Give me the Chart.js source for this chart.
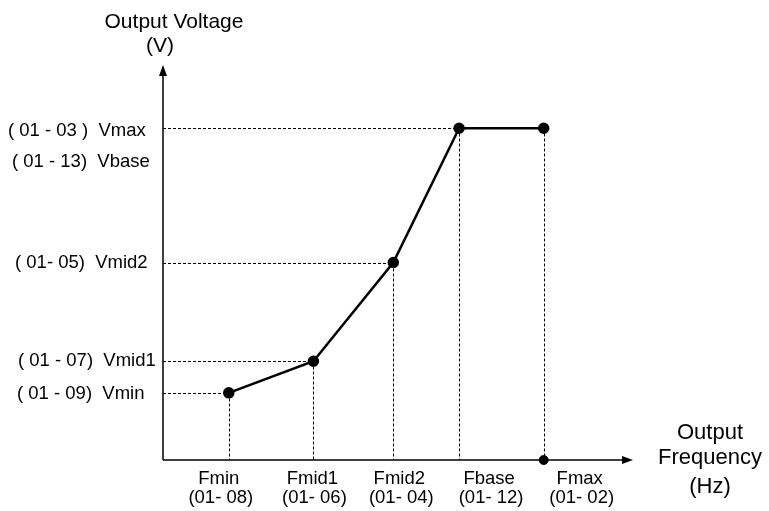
<!DOCTYPE html>
<html>
<head>
<meta charset="utf-8">
<script src="https://cdn.jsdelivr.net/npm/chart.js@4"></script>
<style>
  html, body { margin: 0; padding: 0; background: #fff; }
  #wrap { width: 769px; height: 511px; position: relative; }
</style>
</head>
<body>
<div id="wrap"><canvas id="vfChart"></canvas></div>
<script>
// V/F curve points (arbitrary units, 0..100 on each axis)
const freqNames = ["Fmin", "Fmid1", "Fmid2", "Fbase", "Fmax"];
const freqCodes = ["(01- 08)", "(01- 06)", "(01- 04)", "(01- 12)", "(01- 02)"];
const freqValues = [14, 32, 49, 63, 81];
const voltValues = [17, 25, 50, 84, 84];

// y side labels (Vbase sits just below Vmax, no guide line)
const voltLabels = ["( 01 - 03 )  Vmax", "( 01 - 13)  Vbase", "( 01- 05)  Vmid2", "( 01 - 07)  Vmid1", "( 01 - 09)  Vmin"];
const voltLabelValues = [84, 75.5, 50, 25, 17];

const FONT = '"Liberation Sans", Arial, sans-serif';

const axesPlugin = {
  id: 'axesPlugin',
  beforeDatasetsDraw(chart) {
    const ctx = chart.ctx;
    const xs = chart.scales.x, ys = chart.scales.y;
    const x0 = xs.getPixelForValue(0), y0 = ys.getPixelForValue(0);
    const xEnd = xs.getPixelForValue(xs.max), yEnd = ys.getPixelForValue(ys.max);
    ctx.save();
    ctx.strokeStyle = '#000';
    ctx.fillStyle = '#000';

    // dashed guides
    ctx.lineWidth = 1;
    ctx.setLineDash([3, 2]);
    for (let i = 0; i < freqValues.length; i++) {
      const px = Math.round(xs.getPixelForValue(freqValues[i])) + 0.5;
      const py = Math.round(ys.getPixelForValue(voltValues[i])) + 0.5;
      ctx.beginPath();
      ctx.moveTo(x0, py); ctx.lineTo(px, py);
      ctx.moveTo(px, py); ctx.lineTo(px, y0);
      ctx.stroke();
    }
    ctx.setLineDash([]);

    // axes with arrow heads
    ctx.lineWidth = 1.5;
    ctx.beginPath();
    ctx.moveTo(x0, y0); ctx.lineTo(x0, yEnd + 6);
    ctx.moveTo(x0, y0); ctx.lineTo(xEnd - 6, y0);
    ctx.stroke();
    ctx.beginPath();
    ctx.moveTo(x0, yEnd); ctx.lineTo(x0 - 4, yEnd + 11); ctx.lineTo(x0 + 4, yEnd + 11); ctx.closePath();
    ctx.fill();
    ctx.beginPath();
    ctx.moveTo(xEnd, y0); ctx.lineTo(xEnd - 11, y0 - 4); ctx.lineTo(xEnd - 11, y0 + 4); ctx.closePath();
    ctx.fill();

    // axis titles
    ctx.font = '21px ' + FONT;
    ctx.textAlign = 'center';
    ctx.textBaseline = 'middle';
    ctx.fillText('Output Voltage', 174, 22);
    ctx.fillText('(V)', 160, 46);
    ctx.font = '22px ' + FONT;
    ctx.fillText('Output', 710, 433);
    ctx.fillText('Frequency', 710, 458);
    ctx.fillText('(Hz)', 710, 487);

    // level labels, left edges as in the original drawing
    const leftX = [8, 12, 15, 18, 17];
    const dy = [3, 0, 0, 0, 1];
    ctx.font = '18.5px ' + FONT;
    ctx.textAlign = 'left';
    voltLabels.forEach((t, i) => {
      ctx.fillText(t, leftX[i], ys.getPixelForValue(voltLabelValues[i]) + dy[i]);
    });

    // frequency labels, the last two sit right of their guide line
    const shiftX = [-10, -1, 6, 30, 36];
    ctx.textAlign = 'center';
    freqNames.forEach((t, i) => {
      const px = xs.getPixelForValue(freqValues[i]) + shiftX[i];
      ctx.fillText(t, px, y0 + 19);
      ctx.fillText(freqCodes[i], px + 2, y0 + 38);
    });
    ctx.restore();
  }
};

new Chart(document.getElementById('vfChart'), {
  type: 'scatter',
  data: {
    datasets: [{
      data: freqValues.map((f, i) => ({ x: f, y: voltValues[i] })),
      showLine: true,
      borderColor: '#000',
      backgroundColor: '#000',
      borderWidth: 2.5,
      pointRadius: 4.5,
      pointHoverRadius: 4.5,
      clip: false
    }, {
      // Fmax marker on the frequency axis
      data: [{ x: freqValues[4], y: 0 }],
      backgroundColor: '#000',
      borderColor: '#000',
      pointRadius: 4.5,
      clip: false
    }]
  },
  options: {
    responsive: true,
    maintainAspectRatio: false,
    animation: false,
    layout: { padding: { left: 163, right: 136, top: 65, bottom: 51 } },
    plugins: { legend: { display: false }, tooltip: { enabled: false } },
    scales: {
      x: { type: 'linear', min: 0, max: 100, display: false },
      y: { type: 'linear', min: 0, max: 100, display: false }
    }
  },
  plugins: [axesPlugin]
});
</script>
</body>
</html>
